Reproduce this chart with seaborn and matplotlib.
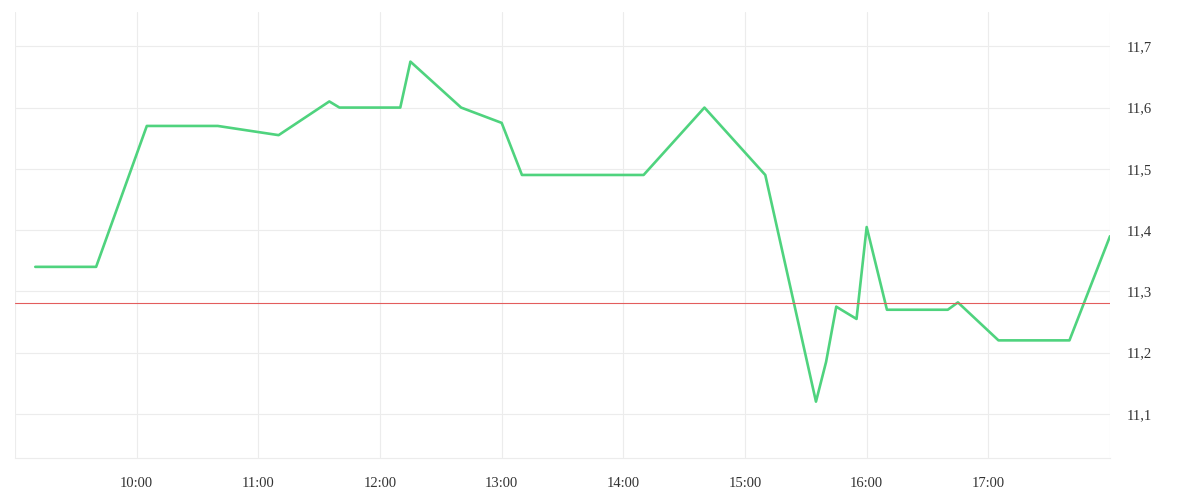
import seaborn as sns
import pandas as pd
import matplotlib.pyplot as plt
import matplotlib.dates as mdates
from matplotlib.ticker import FuncFormatter, FixedLocator

# intraday quotes (time of trade, price)
times = ["09:10", "09:40", "10:05", "10:40", "11:10", "11:35", "11:40", "12:10",
         "12:15", "12:40", "13:00", "13:10", "14:10", "14:40", "15:10", "15:35",
         "15:40", "15:45", "15:55", "16:00", "16:10", "16:40", "16:45", "17:05",
         "17:40", "18:00"]
prices = [11.34, 11.34, 11.57, 11.57, 11.555, 11.61, 11.60, 11.60,
          11.675, 11.60, 11.575, 11.49, 11.49, 11.60, 11.49, 11.12,
          11.185, 11.275, 11.255, 11.405, 11.27, 11.27, 11.282, 11.22,
          11.22, 11.39]
prev_close = 11.281
y_ticks = [11.1, 11.2, 11.3, 11.4, 11.5, 11.6, 11.7]
day = "2024-01-02"

df = pd.DataFrame({"time": pd.to_datetime([f"{day} {t}" for t in times]),
                   "price": prices})

sns.set_style("white")
plt.rcParams["font.family"] = ["Liberation Serif", "DejaVu Serif"]

grid_col = "#ececec"
fig = plt.figure(figsize=(12, 5), dpi=100)
ax = fig.add_axes([0.0125, 0.084, 0.9125, 0.892])

sns.lineplot(data=df, x="time", y="price", color="#4fd37e", linewidth=1.9, ax=ax)
ax.axhline(prev_close, color="#e35d5d", linewidth=0.8, zorder=3)

ax.set_xlim(pd.Timestamp(f"{day} 09:00"), pd.Timestamp(f"{day} 18:00"))
ax.set_ylim(11.028, 11.756)

ax.xaxis.set_major_locator(mdates.HourLocator())
ax.xaxis.set_major_formatter(FuncFormatter(
    lambda v, p: "" if mdates.num2date(v).hour in (9, 18) else mdates.num2date(v).strftime("%H:%M")))
ax.yaxis.set_major_locator(FixedLocator(y_ticks))
ax.yaxis.set_major_formatter(FuncFormatter(lambda v, p: f"{v:.1f}".replace(".", ",")))
ax.yaxis.tick_right()

ax.grid(True, color=grid_col, linewidth=0.8)
ax.tick_params(axis="x", length=10, width=0.8, color=grid_col, labelsize=10.5,
               labelcolor="#333333", pad=4)
ax.tick_params(axis="y", length=0, labelsize=10.5, labelcolor="#333333", pad=12)

for side in ["top", "left", "right"]:
    ax.spines[side].set_visible(False)
ax.spines["bottom"].set_color(grid_col)
ax.spines["bottom"].set_linewidth(0.8)

ax.set_xlabel("")
ax.set_ylabel("")

fig.savefig("out.png", dpi=100)
